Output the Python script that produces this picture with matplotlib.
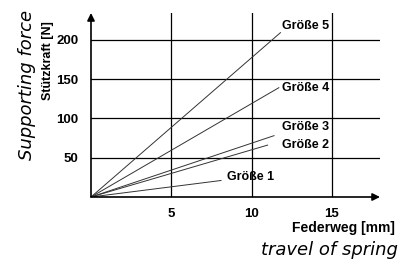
import matplotlib
matplotlib.use("Agg")
import matplotlib.pyplot as plt

# Federkennlinien: Federweg [mm] -> Stützkraft [N]
sizes = ["Größe 1", "Größe 2", "Größe 3", "Größe 4", "Größe 5"]
travel_end = [8.1, 11.0, 11.4, 11.7, 11.8]
force_end = [21, 66, 78, 139, 209]
label_pos = [(8.5, 25), (11.9, 66), (11.9, 89), (11.9, 139), (11.9, 217)]

xticks = [5, 10, 15]
yticks = [50, 100, 150, 200]

sans = ["Liberation Sans", "DejaVu Sans"]

fig = plt.figure(figsize=(4.11, 2.62), dpi=100)
ax = fig.add_axes([91/411, 65/262, 289/411, 184/262])
ax.set_xlim(0, 18)
ax.set_ylim(0, 234)

# Raster
for y in yticks:
    ax.axhline(y, color="black", lw=0.9, zorder=1)
for x in xticks:
    ax.axvline(x, color="black", lw=0.9, zorder=1)

# Kennlinien
for name, xe, ye, (lx, ly) in zip(sizes, travel_end, force_end, label_pos):
    ax.plot([0, xe], [0, ye], color="#333333", lw=0.7, zorder=2)
    ax.text(lx, ly, name, fontsize=9, fontweight="bold", family=sans,
            va="center", ha="left", zorder=3)

# Achsen mit Pfeilen
for s in ax.spines.values():
    s.set_visible(False)
ax.annotate("", xy=(1.0, 0), xytext=(0, 0), xycoords="axes fraction",
            arrowprops=dict(arrowstyle="-|>", color="black", lw=1.2,
                            mutation_scale=11, shrinkA=0, shrinkB=0))
ax.annotate("", xy=(0, 1.0), xytext=(0, 0), xycoords="axes fraction",
            arrowprops=dict(arrowstyle="-|>", color="black", lw=1.2,
                            mutation_scale=11, shrinkA=0, shrinkB=0))

ax.set_xticks(xticks)
ax.set_xticklabels([str(t) for t in xticks], fontsize=9.5, fontweight="bold", family=sans)
ax.set_yticks(yticks)
ax.set_yticklabels([str(t) for t in yticks], fontsize=9.5, fontweight="bold", family=sans)
ax.tick_params(axis="x", length=0, pad=8)
ax.tick_params(axis="y", length=0, pad=9)

fig.text(292/411, 1 - 228/262, "Federweg [mm]", fontsize=10, fontweight="bold",
         family=sans, ha="left", va="center")
fig.text(398/411, 1 - 250/262, "travel of spring", fontsize=13, style="italic",
         ha="right", va="center")
fig.text(27/411, 1 - 85/262, "Supporting force", fontsize=13, style="italic",
         rotation=90, ha="center", va="center")
fig.text(48/411, 1 - 61/262, "Stützkraft [N]", fontsize=9, fontweight="bold",
         family=sans, rotation=90, ha="center", va="center")

fig.savefig("out.png", dpi=100)
